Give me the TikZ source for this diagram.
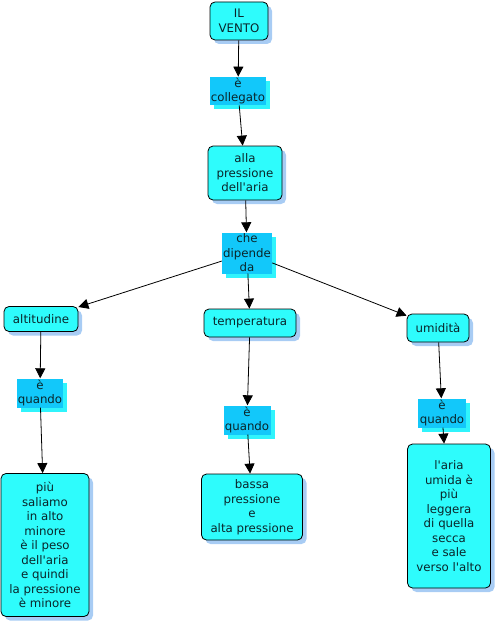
\documentclass[tikz,border=0pt]{standalone}
\usepackage{fontspec}
\setmainfont{DejaVu Sans}
\usepackage{tikz}
\usetikzlibrary{arrows.meta,shadows}
\definecolor{conceptfill}{HTML}{2EFCFC}
\definecolor{conceptshade}{HTML}{A8CCF4}
\definecolor{linkfill}{HTML}{12C8FA}
\definecolor{linkshade}{HTML}{30F4FC}
\definecolor{mapink}{HTML}{0A262B}
\newcommand{\ap}{\textquotesingle}

\begin{document}
\begin{tikzpicture}[
        x=1pt,
        y=-1pt,
        font=\fontsize{11.8}{14.5}\selectfont,
        text=mapink,
        concept/.style={draw=black, line width=0.8pt, fill=conceptfill, rounded corners=5pt,
            align=center, inner sep=1pt,
            drop shadow={shadow xshift=4pt, shadow yshift=-4pt, fill=conceptshade, opacity=1}},
        linkword/.style={fill=linkfill, align=center, inner sep=1pt,
            drop shadow={shadow xshift=4pt, shadow yshift=-4pt, fill=linkshade, opacity=1}},
        arc/.style={-{Triangle[length=10pt,width=10pt]}, line width=0.8pt, black}
    ]
        \useasboundingbox (0,0) rectangle (497,623);

        % top of the map
        \node[concept, minimum width=58, minimum height=38] (vento) at (239,21) {IL\\VENTO};
        \node[linkword, minimum width=56, minimum height=28] (collegato) at (238,91) {è\\collegato};
        \node[concept, minimum width=74, minimum height=54] (pressione) at (245,173) {alla\\pressione\\dell\ap aria};
        \node[linkword, minimum width=50, minimum height=41] (dipende) at (247,253) {che\\dipende\\da};

        % the three factors
        \node[concept, minimum width=74, minimum height=25] (altitudine) at (41,319) {altitudine};
        \node[concept, minimum width=92, minimum height=28] (temperatura) at (250,323) {temperatura};
        \node[concept, minimum width=62, minimum height=28] (umidita) at (438,328) {umidità};

        \node[linkword, minimum width=46, minimum height=29] (quandoA) at (40,393) {è\\quando};
        \node[linkword, minimum width=47, minimum height=29] (quandoB) at (247,420) {è\\quando};
        \node[linkword, minimum width=48, minimum height=29] (quandoC) at (442,413) {è\\quando};

        \node[concept, minimum width=88, minimum height=143] (saliamo) at (45,545)
            {più\\saliamo\\in alto\\minore\\è il peso\\dell\ap aria\\e quindi\\la pressione\\è minore};
        \node[concept, minimum width=101, minimum height=66] (bassa) at (252,507)
            {bassa\\pressione\\e\\alta pressione};
        \node[concept, minimum width=83, minimum height=144] (umida) at (449,516)
            {l\ap aria\\umida è\\più\\leggera\\di quella\\secca\\e sale\\verso l\ap alto};

        \foreach \from/\to in {vento/collegato,collegato/pressione,pressione/dipende,
                dipende/altitudine,dipende/temperatura,dipende/umidita,
                altitudine/quandoA,quandoA/saliamo,temperatura/quandoB,quandoB/bassa,
                umidita/quandoC,quandoC/umida} {
            \draw[arc] (\from) -- (\to);
        }
    \end{tikzpicture}
\end{document}
